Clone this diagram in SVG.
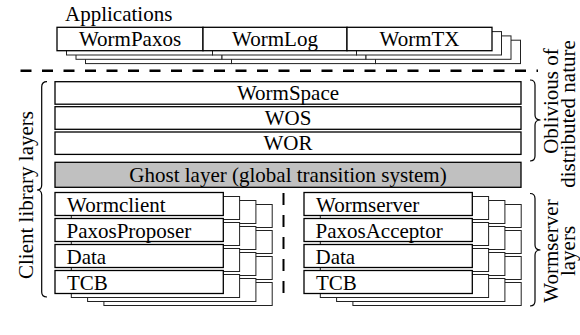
<svg xmlns="http://www.w3.org/2000/svg" xmlns:xlink="http://www.w3.org/1999/xlink" width="580" height="335" viewBox="0 0 580 335">
  <style>
    text { font-family: "Liberation Serif", "Times New Roman", serif; font-size: 21px; fill: #000; }
    .c { text-anchor: middle; }
    .box { fill: #fff; stroke: #000; stroke-width: 1.3; }
    .shadow { fill: #fff; stroke: #222; stroke-width: 1; }
    .ghost { fill: #c0c0c0; stroke: #000; stroke-width: 1.3; }
    .sep { fill: none; stroke: #000; stroke-width: 2.5; stroke-dasharray: 11 10.5; }
    .vsep { fill: none; stroke: #000; stroke-width: 2; stroke-dasharray: 12 10; }
    .brace { fill: none; stroke: #000; stroke-width: 1.2; }
  </style>
  <defs>
    <!-- application row outline, reused for the stacked copies behind it -->
    <g id="appRow">
      <rect x="57" y="27.3" width="146" height="23.4"/>
      <rect x="203" y="27.3" width="144" height="23.4"/>
      <rect x="347" y="27.3" width="145" height="23.4"/>
    </g>
    <!-- four-layer stack outline (client side) -->
    <g id="clientRows">
      <rect x="55" y="192.5" width="168.3" height="23"/>
      <rect x="55" y="218.5" width="168.3" height="23"/>
      <rect x="55" y="244.5" width="168.3" height="23"/>
      <rect x="55" y="270.5" width="168.3" height="23"/>
    </g>
    <!-- four-layer stack outline (server side) -->
    <g id="serverRows">
      <rect x="304" y="192.5" width="168.3" height="23"/>
      <rect x="304" y="218.5" width="168.3" height="23"/>
      <rect x="304" y="244.5" width="168.3" height="23"/>
      <rect x="304" y="270.5" width="168.3" height="23"/>
    </g>
  </defs>

  <!-- Applications -->
  <text x="65" y="21">Applications</text>
  <g id="app-copies" class="shadow">
    <use href="#appRow" transform="translate(28.5,12.9)"/>
    <use href="#appRow" transform="translate(19,8.6)"/>
    <use href="#appRow" transform="translate(9.5,4.3)"/>
  </g>
  <g id="app-wormpaxos">
    <rect class="box" x="57" y="27.3" width="146" height="23.4"/>
    <text class="c" x="130" y="46">WormPaxos</text>
  </g>
  <g id="app-wormlog">
    <rect class="box" x="203" y="27.3" width="144" height="23.4"/>
    <text class="c" x="275" y="46">WormLog</text>
  </g>
  <g id="app-wormtx">
    <rect class="box" x="347" y="27.3" width="145" height="23.4"/>
    <text class="c" x="419.5" y="46">WormTX</text>
  </g>

  <!-- Library layers -->
  <g id="wormspace">
    <rect class="box" x="55" y="81.7" width="466" height="22.5"/>
    <text class="c" x="288" y="100">WormSpace</text>
  </g>
  <g id="wos">
    <rect class="box" x="55" y="106.7" width="466" height="22.6"/>
    <text class="c" x="288" y="125">WOS</text>
  </g>
  <g id="wor">
    <rect class="box" x="55" y="132" width="466" height="22.4"/>
    <text class="c" x="288" y="150">WOR</text>
  </g>
  <g id="ghost">
    <rect class="ghost" x="55" y="162.3" width="466" height="25"/>
    <text class="c" x="288" y="182">Ghost layer (global transition system)</text>
  </g>

  <!-- Client stack -->
  <g id="client-copies" class="shadow">
    <use href="#clientRows" transform="translate(48.9,12)"/>
    <use href="#clientRows" transform="translate(32.6,8)"/>
    <use href="#clientRows" transform="translate(16.3,4)"/>
  </g>
  <g id="wormclient">
    <rect class="box" x="55" y="192.5" width="168.3" height="23"/>
    <text x="67" y="211.5">Wormclient</text>
  </g>
  <g id="paxosproposer">
    <rect class="box" x="55" y="218.5" width="168.3" height="23"/>
    <text x="66.5" y="237.5">PaxosProposer</text>
  </g>
  <g id="client-data">
    <rect class="box" x="55" y="244.5" width="168.3" height="23"/>
    <text x="66.5" y="263.5">Data</text>
  </g>
  <g id="client-tcb">
    <rect class="box" x="55" y="270.5" width="168.3" height="23"/>
    <text x="67" y="289.5">TCB</text>
  </g>

  <!-- Server stack -->
  <g id="server-copies" class="shadow">
    <use href="#serverRows" transform="translate(48.9,12)"/>
    <use href="#serverRows" transform="translate(32.6,8)"/>
    <use href="#serverRows" transform="translate(16.3,4)"/>
  </g>
  <g id="wormserver">
    <rect class="box" x="304" y="192.5" width="168.3" height="23"/>
    <text x="316" y="211.5">Wormserver</text>
  </g>
  <g id="paxosacceptor">
    <rect class="box" x="304" y="218.5" width="168.3" height="23"/>
    <text x="315.5" y="237.5">PaxosAcceptor</text>
  </g>
  <g id="server-data">
    <rect class="box" x="304" y="244.5" width="168.3" height="23"/>
    <text x="315.5" y="263.5">Data</text>
  </g>
  <g id="server-tcb">
    <rect class="box" x="304" y="270.5" width="168.3" height="23"/>
    <text x="316" y="289.5">TCB</text>
  </g>

  <!-- Separators and braces -->
  <g id="connectors">
    <line class="sep" x1="20.5" y1="70.7" x2="538" y2="70.7"/>
    <line class="vsep" x1="283.5" y1="193" x2="283.5" y2="301"/>
    <path class="brace" d="M47,81.7 Q41.7,81.7 41.7,87 V185 Q41.7,190 37,190 Q41.7,190 41.7,195 V292 Q41.7,297 47,297"/>
    <path class="brace" d="M530,80 Q535,80 535,85 V115 Q535,120 540.5,120 Q535,120 535,125 V156 Q535,161 530,161"/>
    <path class="brace" d="M530,193.5 Q535,193.5 535,198.5 V245 Q535,250 540.5,250 Q535,250 535,255 V301 Q535,306 530,306"/>
  </g>

  <!-- Side labels -->
  <text class="c" transform="translate(33,195) rotate(-90)">Client library layers</text>
  <text class="c" transform="translate(558,101) rotate(-90)">Oblivious of</text>
  <text class="c" transform="translate(574.5,114) rotate(-90)">distributed nature</text>
  <text class="c" transform="translate(558,251) rotate(-90)">Wormserver</text>
  <text class="c" transform="translate(574.5,251) rotate(-90)">layers</text>
</svg>
